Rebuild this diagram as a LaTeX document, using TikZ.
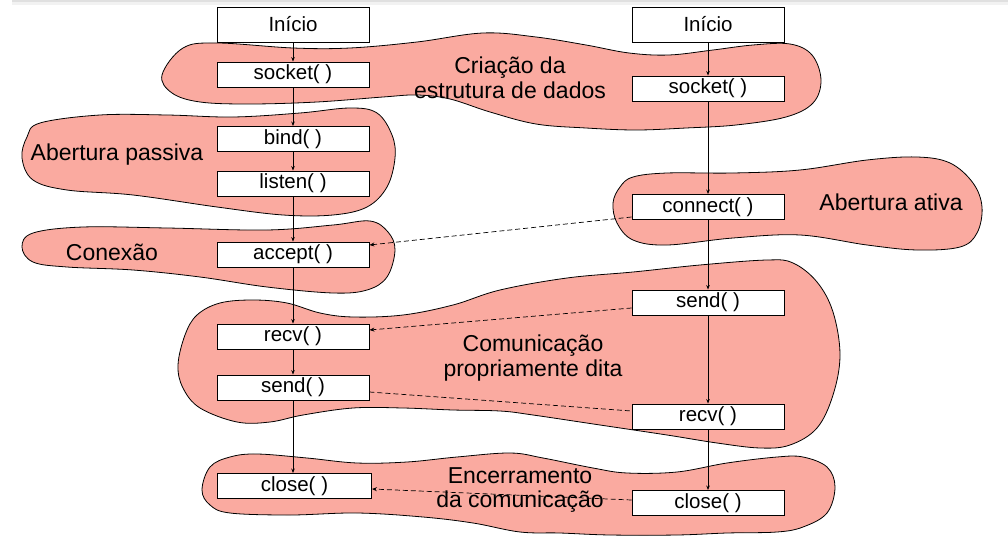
\documentclass[tikz,border=0pt]{standalone}
\usepackage{fontspec}
\setmainfont{Liberation Sans}
\usetikzlibrary{arrows.meta}
\definecolor{blobfill}{RGB}{250,170,160}
\begin{document}
\begin{tikzpicture}[x=1pt,y=-1pt,
  blob/.style={draw=black,line width=0.8pt,fill=blobfill},
  fbox/.style={draw=black,line width=0.9pt,fill=white,minimum width=152pt,minimum height=25pt,inner sep=0pt,font=\fontsize{20.5}{22}\selectfont},
  lbl/.style={align=center,font=\fontsize{23}{24.5}\selectfont,inner sep=0pt},
  flow/.style={line width=0.7pt,-{Stealth[length=4.5pt,width=3.5pt]}},
  dflow/.style={line width=0.7pt,dashed,dash pattern=on 5pt off 3pt,-{Stealth[length=5pt,width=4pt]}},
  dline/.style={line width=0.7pt,dashed,dash pattern=on 5pt off 3pt}]
\useasboundingbox (0,0) rectangle (1008,540);
\fill[white] (0,0) rectangle (1008,540);
\fill[black!12] (12,0) rectangle (1008,2.5);
\fill[black!5] (12,2.5) rectangle (1008,5);
% blobs
\draw[blob] plot[smooth cycle,tension=0.6] coordinates {(162,75) (183,48) (217,43) (293,48) (350,48) (417,42) (483,33) (536,37) (586,45) (629,53) (669,55) (713,50) (753,45) (790,44) (812,55) (821,80) (813,103) (786,117) (736,125) (686,128) (636,130) (586,128) (536,124) (490,112) (450,99) (417,95) (383,97) (317,102) (250,104) (200,102) (172,93)};
\draw[blob] plot[smooth cycle,tension=0.6] coordinates {(22,158) (27,137) (40,123) (100,115) (167,115) (233,117) (300,113) (350,108) (377,113) (392,135) (395,158) (387,187) (367,207) (333,215) (283,215) (217,207) (133,195) (67,190) (33,180)};
\draw[blob] plot[smooth cycle,tension=0.6] coordinates {(22,247) (33,233) (83,227) (167,228) (267,230) (333,225) (370,221) (388,232) (395,250) (387,277) (367,290) (333,293) (267,287) (200,277) (133,270) (67,267) (33,262)};
\draw[blob] plot[smooth cycle,tension=0.6] coordinates {(613,203) (620,187) (633,177) (667,173) (733,173) (800,170) (867,160) (917,157) (950,163) (973,183) (982,207) (977,233) (960,247) (917,250) (867,245) (800,235) (733,238) (667,245) (633,240) (617,223)};
\draw[blob] plot[smooth cycle,tension=0.6] coordinates {(178,365) (185,335) (197,315) (220,303) (253,300) (287,303) (320,313) (353,317) (403,315) (453,305) (500,290) (567,278) (633,272) (700,265) (767,260) (793,263) (817,282) (833,312) (840,355) (833,395) (817,428) (790,445) (760,448) (717,443) (667,435) (600,425) (533,415) (500,411) (453,410) (403,408) (353,408) (303,415) (270,422) (237,422) (200,408) (183,388)};
\draw[blob] plot[smooth cycle,tension=0.6] coordinates {(202,490) (210,467) (230,457) (257,454) (307,458) (357,463) (407,462) (457,457) (510,453) (543,458) (593,468) (627,473) (677,472) (727,463) (777,457) (803,457) (827,467) (835,487) (827,513) (803,527) (777,532) (727,533) (677,535) (610,535) (560,533) (520,532) (473,523) (423,517) (357,513) (290,515) (230,513) (210,505)};
% labels
\node[lbl] (tA) at (510,78) {Criação da\\estrutura de dados};
\node[lbl] (tB) at (117,155) {Abertura passiva};
\node[lbl] (tC) at (112,252) {Conexão};
\node[lbl] (tD) at (891,202) {Abertura ativa};
\node[lbl] (tE) at (533,358) {Comunicação\\propriamente dita};
\node[lbl] (tF) at (520,490) {Encerramento\\da comunicação};
% left column
\node[fbox,minimum height=35pt] (iniL) at (293,24.5) {Início};
\node[fbox] (sockL) at (293,74.5) {socket( )};
\node[fbox] (bindL) at (293,139) {bind( )};
\node[fbox] (listenL) at (293,183.5) {listen( )};
\node[fbox] (acceptL) at (293,254.5) {accept( )};
\node[fbox] (recvL) at (293,336.5) {recv( )};
\node[fbox] (sendL) at (293,387.5) {send( )};
\node[fbox,minimum width=154pt] (closeL) at (294.5,486) {close( )};
% right column
\node[fbox,minimum height=35pt] (iniR) at (708,24.5) {Início};
\node[fbox] (sockR) at (708,88.5) {socket( )};
\node[fbox] (connR) at (708,207) {connect( )};
\node[fbox] (sendR) at (708,302.5) {send( )};
\node[fbox] (recvR) at (708,416.5) {recv( )};
\node[fbox] (closeR) at (708,503) {close( )};
% solid flows
\draw[flow] (iniL) -- (sockL);
\draw[flow] (sockL) -- (bindL);
\draw[flow] (bindL) -- (listenL);
\draw[flow] (listenL) -- (acceptL);
\draw[flow] (acceptL) -- (recvL);
\draw[flow] (recvL) -- (sendL);
\draw[flow] (sendL.south) -- (sendL.south |- closeL.north);
\draw[flow] (iniR) -- (sockR);
\draw[flow] (sockR) -- (connR);
\draw[flow] (connR) -- (sendR);
\draw[flow] (sendR) -- (recvR);
\draw[flow] (recvR) -- (closeR);
% dashed
\draw[dflow] ([yshift=-10pt]connR.west) -- ([yshift=9.5pt]acceptL.east);
\draw[dflow] ([yshift=-5.5pt]sendR.west) -- ([yshift=6.5pt]recvL.east);
\draw[dline] ([yshift=-4.5pt]sendL.east) -- ([yshift=5.5pt]recvR.west);
\draw[dflow] ([yshift=3pt]closeR.west) -- ([yshift=-3pt]closeL.east);
\end{tikzpicture}
\end{document}
